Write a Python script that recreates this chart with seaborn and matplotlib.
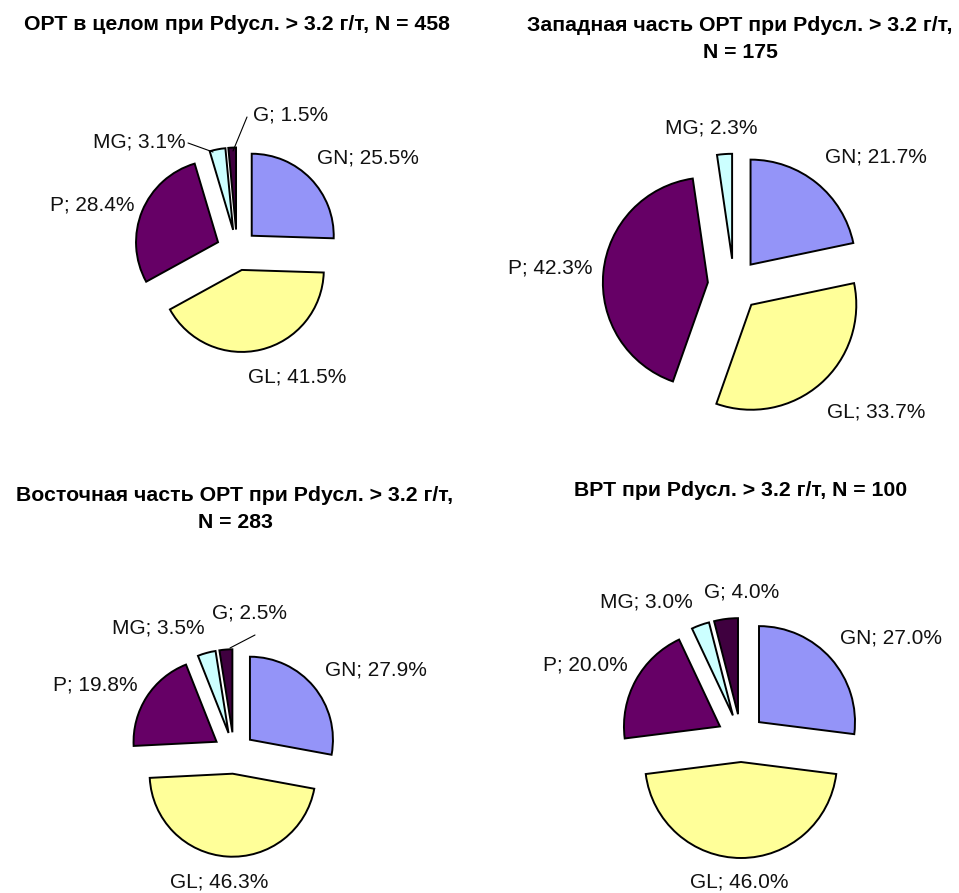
import matplotlib
matplotlib.use("Agg")
import matplotlib.pyplot as plt
import seaborn as sns

sns.set_theme(style="white")
plt.rcParams["font.family"] = ["Liberation Sans", "DejaVu Sans"]

# ---- data -------------------------------------------------------------
categories = ["GN", "GL", "P", "MG", "G"]

share_ort_total = [25.5, 41.5, 28.4, 3.1, 1.5]
share_ort_west = [21.7, 33.7, 42.3, 2.3, 0.0]
share_ort_east = [27.9, 46.3, 19.8, 3.5, 2.5]
share_vrt = [27.0, 46.0, 20.0, 3.0, 4.0]

titles = [
    "ОРТ в целом при Pdусл. > 3.2 г/т, N = 458",
    "Западная часть ОРТ при Pdусл. > 3.2 г/т,\nN = 175",
    "Восточная часть ОРТ при Pdусл. > 3.2 г/т,\nN = 283",
    "ВРТ при Pdусл. > 3.2 г/т, N = 100",
]

palette = sns.color_palette(["#9494F8", "#FFFF99", "#660066", "#CCFFFF", "#3F003F"])

# ---- layout (pixels, origin top-left) ---------------------------------
W, H = 959, 893
pies = [
    dict(values=share_ort_total, center=(237, 250), r=82, title_xy=(237, 25),
         labels={"G": (253, 115), "MG": (93, 142), "GN": (317, 158),
                 "P": (50, 205), "GL": (248, 377)},
         leaders=[((247, 117), (233, 151)), ((188, 143), (213, 152))]),
    dict(values=share_ort_west, center=(734, 285), r=105, title_xy=(740, 39),
         labels={"MG": (665, 128), "GN": (825, 157), "P": (508, 268),
                 "GL": (827, 412)},
         leaders=[]),
    dict(values=share_ort_east, center=(234, 753), r=83, title_xy=(235, 509),
         labels={"G": (212, 613), "MG": (112, 628), "P": (53, 685),
                 "GN": (325, 670), "GL": (170, 882)},
         leaders=[((255, 635), (230, 648))]),
    dict(values=share_vrt, center=(741, 738), r=96, title_xy=(741, 490),
         labels={"G": (704, 592), "MG": (600, 602), "P": (543, 665),
                 "GN": (840, 638), "GL": (690, 882)},
         leaders=[]),
]
EXPLODE = 0.25


def Y(y):
    return H - y


fig = plt.figure(figsize=(W / 100, H / 100), dpi=100)
ax = fig.add_axes([0, 0, 1, 1])
ax.set_xlim(0, W)
ax.set_ylim(0, H)
ax.set_aspect("equal")
ax.axis("off")

for spec, title in zip(pies, titles):
    vals = [v for v in spec["values"] if v > 0]
    cats = [c for c, v in zip(categories, spec["values"]) if v > 0]
    cols = [palette[categories.index(c)] for c in cats]
    cx, cy = spec["center"]
    r = spec["r"]
    ax.pie(vals, colors=cols, startangle=90, counterclock=False,
           center=(cx, Y(cy)), radius=r, explode=[EXPLODE * r] * len(vals),
           wedgeprops=dict(edgecolor="black", linewidth=1.4),
           normalize=True, frame=True)
    for c, v in zip(cats, vals):
        lx, ly = spec["labels"][c]
        ax.text(lx, Y(ly), f"{c}; {v:.1f}%", ha="left", va="center",
                fontsize=15, color="#111111")
    for (x0, y0), (x1, y1) in spec["leaders"]:
        ax.plot([x0, x1], [Y(y0), Y(y1)], color="black", lw=0.8)
    tx, ty = spec["title_xy"]
    ax.text(tx, Y(ty), title, ha="center", va="center", fontsize=15.3,
            fontweight="bold", linespacing=1.5, color="black")

ax.set_xlim(0, W)
ax.set_ylim(0, H)
ax.axis("off")
fig.savefig("out.png", dpi=100, facecolor="white")
